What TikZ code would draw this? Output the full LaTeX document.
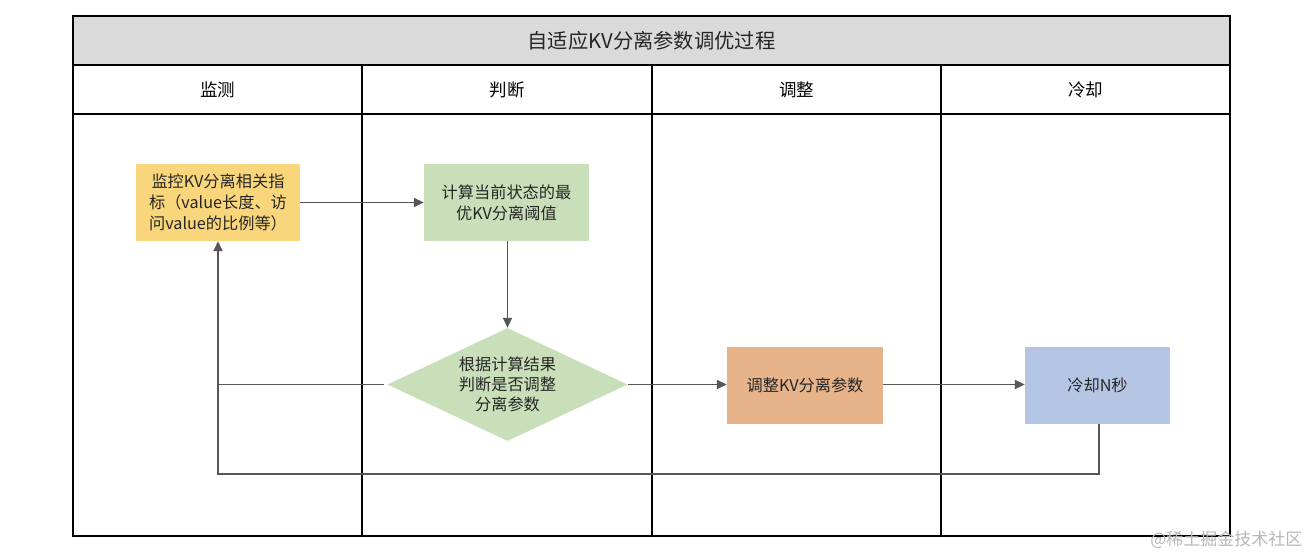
\documentclass[tikz,border=0pt]{standalone}
\usepackage{fontspec}
\setmainfont{Noto Sans CJK SC}
\usetikzlibrary{arrows.meta,shapes.geometric}
\definecolor{titlegray}{HTML}{DADADA}
\definecolor{cyellow}{HTML}{F9D67C}
\definecolor{cgreen}{HTML}{C9DFB9}
\definecolor{corange}{HTML}{E6B38A}
\definecolor{cblue}{HTML}{B5C6E4}
\definecolor{lgray}{HTML}{575757}
\definecolor{txt}{HTML}{262626}
\tikzset{
  frameline/.style={draw=black,line width=1.8pt},
  procbox/.style={draw=none,minimum height=77pt,inner sep=0pt,align=center,
    text=txt,font=\fontsize{16.2}{21}\selectfont},
  headtxt/.style={text=black,font=\fontsize{17.5}{21}\selectfont},
  flow/.style={draw=lgray,line width=1.9pt,-{Triangle[length=10pt,width=9pt]}},
  flowplain/.style={draw=lgray,line width=1.9pt}
}
\begin{document}
\begin{tikzpicture}[x=1pt,y=-1pt]
\useasboundingbox (0,0) rectangle (1312,557);
\fill[white] (0,0) rectangle (1312,557);
% title band
\fill[titlegray] (73,16) rectangle (1230,65);
\node[text=txt,font=\fontsize{20.3}{24}\selectfont] (title) at (651.5,41) {自适应KV分离参数调优过程};
% headers
\node[headtxt] (h1) at (217.5,89.5) {监测};
\node[headtxt] (h2) at (507,89.5) {判断};
\node[headtxt] (h3) at (796.5,89.5) {调整};
\node[headtxt] (h4) at (1085.5,89.5) {冷却};
% grid
\draw[frameline] (73,65) -- (1230,65);
\draw[frameline] (73,114) -- (1230,114);
\draw[frameline] (362,65) -- (362,536);
\draw[frameline] (652,65) -- (652,536);
\draw[frameline] (941,65) -- (941,536);
\draw[frameline] (73,16) rectangle (1230,536);
% process nodes
\node[procbox,fill=cyellow,minimum width=164pt] (mon) at (218,202.5)
  {监控KV分离相关指\\标（value长度、访\\问value的比例等）};
\node[procbox,fill=cgreen,minimum width=165pt] (calc) at (506.5,202.5)
  {计算当前状态的最\\优KV分离阈值};
\node[diamond,fill=cgreen,draw=none,minimum width=240pt,minimum height=113pt,inner sep=0pt] (dia) at (507.5,384.5) {};
\node[align=center,text=txt,font=\fontsize{16.2}{20}\selectfont] (diatxt) at (dia.center) {根据计算结果\\判断是否调整\\分离参数};
\node[procbox,fill=corange,minimum width=156pt] (adj) at (805,385.5) {调整KV分离参数};
\node[procbox,fill=cblue,minimum width=145pt] (cool) at (1097.5,385.5) {冷却N秒};
% connectors
\coordinate (jn) at (218,384.5);
\coordinate (loopc) at (218,474);
\draw[flow] (mon.east) -- (calc.west);
\draw[flow] (calc.south -| dia.north) -- (dia.north);
\draw[flow,shorten <=3pt] (dia.west) -- (jn) -- (mon.south);
\draw[flow] (dia.east) -- (adj.west |- dia.east);
\draw[flow] (adj.east |- dia.east) -- (cool.west |- dia.east);
\draw[flowplain] ([xshift=1.5pt]cool.south) |- (loopc) -- (jn);
% watermark
\node[anchor=east,text=black!28,font=\fontsize{17}{20}\selectfont] (wm) at (1306,540) {@稀土掘金技术社区};
\end{tikzpicture}
\end{document}
